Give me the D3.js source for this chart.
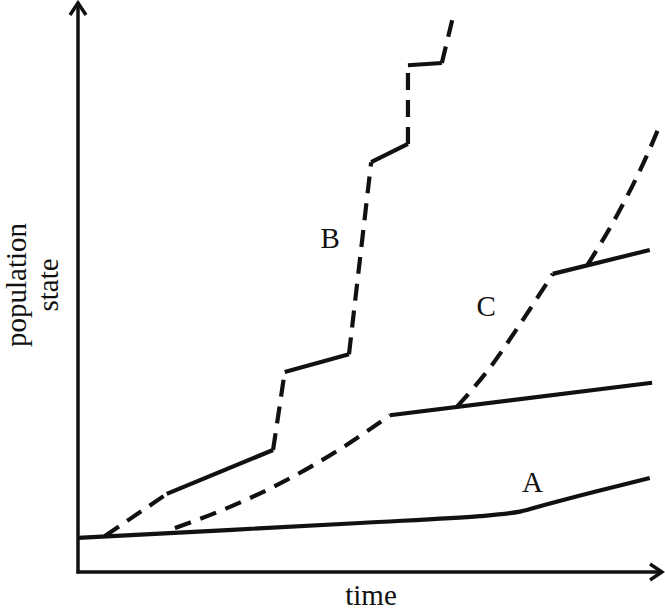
<!DOCTYPE html>
<html>
<head>
<meta charset="utf-8">
<script src="https://cdn.jsdelivr.net/npm/d3@7"></script>
<style>
  body { margin: 0; background: #fff; }
  text, tspan { font-family: "Liberation Serif", "Times New Roman", serif; fill: #111; }
</style>
</head>
<body>
<svg id="chart"></svg>
<script>
// curve A: slow steady growth
const timeA = [0, 48.3, 68.8, 75.7, 80.0, 89.0, 97.9];
const stateA = [6.0, 8.6, 9.8, 10.6, 11.8, 14.2, 16.5];

// curve B: alternating jumps (dashed) and slow phases (solid)
const timeB = [4.6, 15.2, 33.4, 35.4, 46.4, 50.2, 56.5, 56.5, 62.3, 64.4];
const stateB = [6.3, 13.7, 21.4, 35.1, 38.2, 71.9, 75.1, 88.9, 89.3, 98.2];
const styleB = ['dash', 'solid', 'dash', 'solid', 'dash', 'solid', 'dash', 'solid', 'dash'];

// curve C pieces
const timeC1 = [16.6, 24.8, 35.1, 45.4, 53.4];
const stateC1 = [7.7, 10.9, 15.8, 21.9, 27.5];
const timeC1s = [53.4, 98.3];
const stateC1s = [27.5, 33.2];
const timeC2 = [64.9, 70.5, 75.7, 81.3];
const stateC2 = [29.0, 35.8, 43.5, 52.3];
const timeC2s = [81.3, 97.9];
const stateC2s = [52.3, 56.5];
const timeC3 = [87.2, 92.3, 97.6, 99.8];
const stateC3 = [53.8, 62.6, 73.5, 78.8];

const labels = ['A', 'B', 'C'];
const labelTime = [77.8, 43.2, 69.9];
const labelState = [14.0, 56.8, 44.9];

const width = 665, height = 612;
const svg = d3.select('#chart').attr('width', width).attr('height', height);

const x = d3.scaleLinear().domain([0, 100]).range([78, 662]);
const y = d3.scaleLinear().domain([0, 100]).range([572, 2]);

const zip = (t, s) => t.map((d, i) => [d, s[i]]);
const smooth = d3.line().x(d => x(d[0])).y(d => y(d[1])).curve(d3.curveMonotoneX);
const round = d3.line().x(d => x(d[0])).y(d => y(d[1])).curve(d3.curveCatmullRom);
const straight = d3.line().x(d => x(d[0])).y(d => y(d[1]));

const dash = '17,10';

function draw(pts, gen, style) {
  svg.append('path')
    .attr('d', gen(pts))
    .attr('fill', 'none')
    .attr('stroke', '#111')
    .attr('stroke-width', 4.2)
    .attr('stroke-dasharray', style === 'dash' ? dash : null);
}

// axes
const ax = svg.append('g').attr('stroke', '#111').attr('stroke-width', 3.5).attr('fill', 'none');
ax.append('path').attr('d', `M${x(0)},${y(0) + 1.5}V${y(100)}`);
ax.append('path').attr('d', `M${x(0) - 1.5},${y(0)}H${x(100)}`);
ax.append('path').attr('d', `M${x(0) - 8},${y(100) + 13}L${x(0)},${y(100) + 1}L${x(0) + 8},${y(100) + 13}`);
ax.append('path').attr('d', `M${x(100) - 12},${y(0) - 8}L${x(100)},${y(0)}L${x(100) - 12},${y(0) + 8}`);

// A
draw(zip(timeA, stateA), round, 'solid');

// B
const ptsB = zip(timeB, stateB);
styleB.forEach((s, i) => draw([ptsB[i], ptsB[i + 1]], straight, s));

// C
draw(zip(timeC1, stateC1), smooth, 'dash');
draw(zip(timeC1s, stateC1s), straight, 'solid');
draw(zip(timeC2, stateC2), smooth, 'dash');
draw(zip(timeC2s, stateC2s), straight, 'solid');
draw(zip(timeC3, stateC3), smooth, 'dash');

// curve labels
svg.selectAll('.lab').data(labels).enter().append('text')
  .attr('class', 'lab')
  .attr('x', (d, i) => x(labelTime[i]))
  .attr('y', (d, i) => y(labelState[i]))
  .attr('text-anchor', 'middle')
  .attr('font-size', 29)
  .text(d => d);

// axis titles
svg.append('text')
  .attr('x', 371).attr('y', 605)
  .attr('text-anchor', 'middle')
  .attr('font-size', 29)
  .text('time');

const yt = svg.append('text')
  .attr('transform', 'translate(26,285) rotate(-90)')
  .attr('text-anchor', 'middle')
  .attr('font-size', 29);
yt.append('tspan').attr('x', 0).attr('y', 0).text('population');
yt.append('tspan').attr('x', 0).attr('y', 32).text('state');
</script>
</body>
</html>
